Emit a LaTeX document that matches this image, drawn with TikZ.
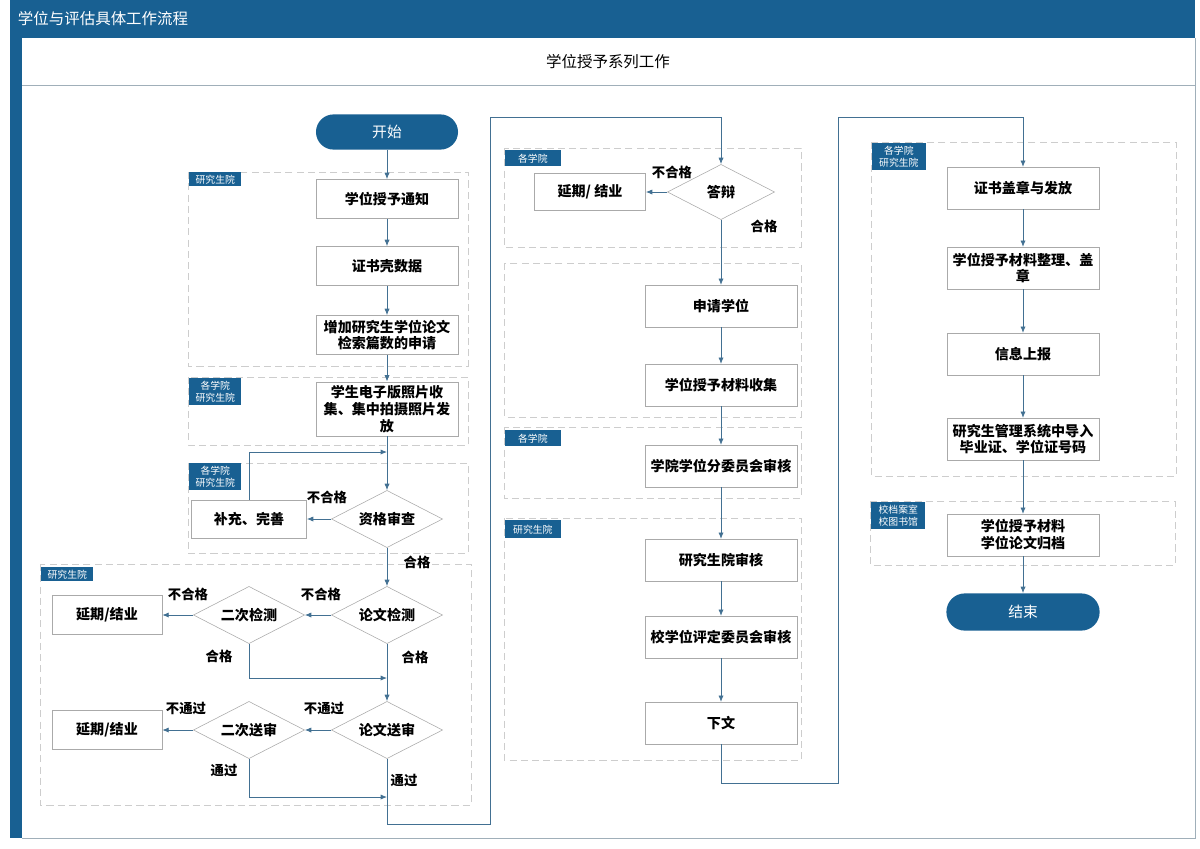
\documentclass[tikz,border=0pt]{standalone}
\usepackage{fontspec}
\newfontfamily\cjk{Noto Sans CJK SC}
\usetikzlibrary{arrows.meta,positioning,shapes.geometric}
\definecolor{hdblue}{RGB}{24,96,146}
\definecolor{flowblue}{RGB}{66,112,146}
\definecolor{boxgray}{RGB}{170,170,170}
\definecolor{lanegray}{RGB}{205,205,205}
\definecolor{framegray}{RGB}{160,175,185}

\begin{document}
\begin{tikzpicture}[
  x=0.025cm, y=-0.025cm,
  boxstep/.style={draw=boxgray, fill=white, align=center, inner sep=1pt, font=\cjk\bfseries\fontsize{10}{12}\selectfont},
  narrowstep/.style={boxstep, minimum width=3.55cm, minimum height=0.98cm},
  widestep/.style={boxstep, minimum width=3.8cm, minimum height=1.04cm},
  endstep/.style={boxstep, minimum width=2.75cm, minimum height=0.97cm},
  checkstep/.style={diamond, draw=boxgray, fill=white, aspect=2, inner sep=0pt, minimum width=2.78cm, minimum height=1.43cm, font=\cjk\bfseries\fontsize{10}{12}\selectfont},
  termstep/.style={fill=hdblue, text=white, rounded corners=0.44cm, minimum width=3.55cm, minimum height=0.88cm, font=\cjk\fontsize{10.5}{12}\selectfont},
  lane/.style={draw=lanegray, dash pattern=on 5pt off 3pt, line width=0.5pt},
  tag/.style={fill=hdblue, text=white, anchor=north west, align=center, inner sep=0pt, minimum width=1.3cm, minimum height=0.35cm, font=\cjk\fontsize{7}{8.5}\selectfont},
  verdict/.style={font=\cjk\bfseries\fontsize{9.5}{11}\selectfont},
  arrow/.style={-{Latex[length=1.6mm,width=1.3mm]}, draw=flowblue, line width=0.6pt}
]
\useasboundingbox (0,0) rectangle (1200,848);

\fill[hdblue] (10,0) rectangle (1195,38);
\fill[hdblue] (10,0) rectangle (22,838);
\draw[framegray] (22,85) -- (1195,85);
\draw[framegray] (1195,38) -- (1195,838) -- (22,838);
\node[anchor=west, text=white, font=\cjk\fontsize{11}{13}\selectfont] (hdr) at (13,19) {学位与评估具体工作流程};
\node[font=\cjk\fontsize{11}{13}\selectfont] (title) at (608,62) {学位授予系列工作};

\draw[lane] (188,172) rectangle (468,366);
\node[tag] (g1) at (189,172) {研究生院};
\draw[lane] (188,377) rectangle (468,445);
\node[tag, minimum height=0.68cm] (g2) at (189,378) {各学院\\研究生院};
\draw[lane] (188,463) rectangle (468,553);
\node[tag, minimum height=0.68cm] (g3) at (189,463) {各学院\\研究生院};
\draw[lane] (40,564) rectangle (471,805);
\node[tag] (g4) at (41,567) {研究生院};

\draw[lane] (504,148) rectangle (801,247);
\node[tag, minimum width=1.38cm, minimum height=0.4cm] (g5) at (505,150) {各学院};
\draw[lane] (504,263) rectangle (801,417);
\draw[lane] (504,427) rectangle (801,498);
\node[tag, minimum width=1.38cm, minimum height=0.4cm] (g6) at (505,430) {各学院};
\draw[lane] (504,518) rectangle (801,760);
\node[tag, minimum width=1.38cm, minimum height=0.45cm] (g7) at (505,520) {研究生院};

\draw[lane] (871,142) rectangle (1176,476);
\node[tag, minimum width=1.33cm, minimum height=0.66cm] (g8) at (872,143) {各学院\\研究生院};
\draw[lane] (870,501) rectangle (1175,565);
\node[tag, minimum width=1.35cm, minimum height=0.66cm] (g9) at (871,502) {校档案室\\校图书馆};

\node[termstep] (start) at (387,132) {开始};
\node[narrowstep] (a1) at (387,199) {学位授予通知};
\node[narrowstep] (a2) at (387,266) {证书壳数据};
\node[narrowstep] (a3) at (387,335) {增加研究生学位论文\\检索篇数的申请};
\node[narrowstep, minimum height=1.36cm] (a4) at (387,409) {学生电子版照片收\\集、集中拍摄照片发\\放};
\node[checkstep] (q1) at (387,519) {资格审查};
\node[boxstep, minimum width=2.88cm, minimum height=0.95cm] (fix) at (249,519) {补充、完善};
\node[checkstep] (q2) at (387,615) {论文检测};
\node[checkstep] (q3) at (249,615) {二次检测};
\node[endstep] (f1) at (107,615) {延期/结业};
\node[checkstep] (q4) at (387,730) {论文送审};
\node[checkstep] (q5) at (249,730) {二次送审};
\node[endstep] (f2) at (107,730) {延期/结业};

\coordinate (j1) at (387,452);
\coordinate (j2) at (387,678);
\coordinate (j3) at (387,797);
\coordinate (k1) at (490,824);
\coordinate (k2) at (490,117);
\coordinate (k3) at (838,783);
\coordinate (k4) at (838,117);

\node[checkstep, minimum width=2.68cm, minimum height=1.38cm] (b0) at (721,192) {答辩};
\node[endstep, minimum width=2.78cm, minimum height=0.93cm] (f3) at (590,192) {延期/ 结业};
\node[widestep] (b1) at (721,306) {申请学位};
\node[widestep] (b2) at (721,385) {学位授予材料收集};
\node[widestep] (b3) at (721,466) {学院学位分委员会审核};
\node[widestep] (b4) at (721,560) {研究生院审核};
\node[widestep] (b5) at (721,637) {校学位评定委员会审核};
\node[widestep] (b6) at (721,723) {下文};

\node[widestep] (c1) at (1023,188) {证书盖章与发放};
\node[widestep] (c2) at (1023,268) {学位授予材料整理、盖\\章};
\node[widestep] (c3) at (1023,354) {信息上报};
\node[widestep] (c4) at (1023,439) {研究生管理系统中导入\\毕业证、学位证号码};
\node[widestep] (c5) at (1023,535) {学位授予材料\\学位论文归档};
\node[termstep, minimum width=3.83cm, minimum height=0.93cm, rounded corners=0.46cm] (stop) at (1023,612) {结束};

\node[verdict] (n1) at (327,497) {不合格};
\node[verdict] (y1) at (417,562) {合格};
\node[verdict] (n2) at (321,594) {不合格};
\node[verdict] (n3) at (188,594) {不合格};
\node[verdict] (y2) at (415,657) {合格};
\node[verdict] (y3) at (219,656) {合格};
\node[verdict] (n4) at (324,708) {不通过};
\node[verdict] (n5) at (186,708) {不通过};
\node[verdict] (y4) at (224,770) {通过};
\node[verdict] (y5) at (404,780) {通过};
\node[verdict] (n6) at (672,172) {不合格};
\node[verdict] (y6) at (764,226) {合格};

\draw[arrow] (start) -- (a1);
\draw[arrow] (a1) -- (a2);
\draw[arrow] (a2) -- (a3);
\draw[arrow] (a3) -- (a4);
\draw[arrow] (a4) -- (q1);
\draw[arrow] (q1) -- (fix);
\draw[arrow] (fix) |- (j1);
\draw[arrow] (q1) -- (q2);
\draw[arrow] (q2) -- (q3);
\draw[arrow] (q3) -- (f1);
\draw[arrow] (q3) |- (j2);
\draw[arrow] (q2) -- (q4);
\draw[arrow] (q4) -- (q5);
\draw[arrow] (q5) -- (f2);
\draw[arrow] (q5) |- (j3);
\draw[arrow] (q4) |- (k1) -- (k2) -| (b0);

\draw[arrow] (b0) -- (f3);
\draw[arrow] (b0) -- (b1);
\draw[arrow] (b1) -- (b2);
\draw[arrow] (b2) -- (b3);
\draw[arrow] (b3) -- (b4);
\draw[arrow] (b4) -- (b5);
\draw[arrow] (b5) -- (b6);
\draw[arrow] (b6) |- (k3) -- (k4) -| (c1);

\draw[arrow] (c1) -- (c2);
\draw[arrow] (c2) -- (c3);
\draw[arrow] (c3) -- (c4);
\draw[arrow] (c4) -- (c5);
\draw[arrow] (c5) -- (stop);
\end{tikzpicture}
\end{document}
